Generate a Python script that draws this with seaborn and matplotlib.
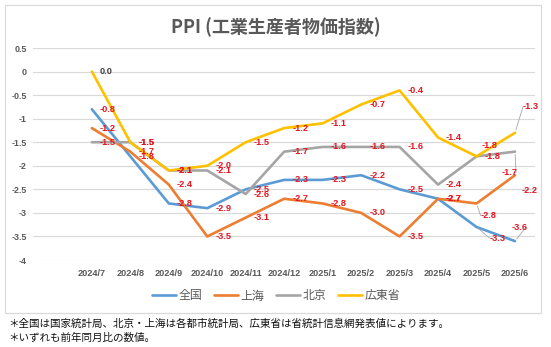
import numpy as np
import pandas as pd
import matplotlib
matplotlib.use("Agg")
import matplotlib.pyplot as plt
from matplotlib.patches import Rectangle
import seaborn as sns

# ---- data ----
months = ["2024/7", "2024/8", "2024/9", "2024/10", "2024/11", "2024/12",
          "2025/1", "2025/2", "2025/3", "2025/4", "2025/5", "2025/6"]
series_names = ["全国", "上海", "北京", "広東省"]
zenkoku = [-0.8, -1.8, -2.8, -2.9, -2.5, -2.3, -2.3, -2.2, -2.5, -2.7, -3.3, -3.6]
shanghai = [-1.2, -1.7, -2.4, -3.5, -3.1, -2.7, -2.8, -3.0, -3.5, -2.7, -2.8, -2.2]
beijing = [-1.5, -1.5, -2.1, -2.1, -2.6, -1.7, -1.6, -1.6, -1.6, -2.4, -1.8, -1.7]
guangdong = [0.0, -1.5, -2.1, -2.0, -1.5, -1.2, -1.1, -0.7, -0.4, -1.4, -1.8, -1.3]
yticks = [0.5, 0, -0.5, -1, -1.5, -2, -2.5, -3, -3.5, -4]
ytick_labels = ["0.5", "0", "-0.5", "-1", "-1.5", "-2", "-2.5", "-3", "-3.5", "-4"]
title = "PPI (工業生産者物価指数)"
notes = ["＊全国は国家統計局、北京・上海は各都市統計局、広東省は省統計信息網発表値によります。",
         "＊いずれも前年同月比の数値。"]

# ---- styles ----
colors = {"全国": "#5B9BD5", "上海": "#ED7D31", "北京": "#A5A5A5", "広東省": "#FFC000"}
# label offsets in pixels (dx right, dy up) for special cases
default_off = (8, 0)
label_offsets = {
    ("広東省", 10): (5, 10.5), ("広東省", 11): (8, 26),
    ("北京", 11): (-13, -21),
    ("上海", 10): (4, -12), ("上海", 11): (7, -15),
    ("全国", 10): (13, -11), ("全国", 11): (-3, 14),
}
leaders = {("広東省", 11), ("北京", 11), ("上海", 10), ("全国", 10), ("全国", 11)}

values = {"全国": zenkoku, "上海": shanghai, "北京": beijing, "広東省": guangdong}
df = pd.DataFrame([
    {"x": i, "month": m, "series": s, "value": values[s][i]}
    for s in series_names for i, m in enumerate(months)
])

sns.set_theme(style="white")
plt.rcParams["font.family"] = ["Liberation Sans", "Noto Sans CJK JP", "DejaVu Sans"]

W, H, DPI = 551, 347, 100
fig = plt.figure(figsize=(W / DPI, H / DPI), dpi=DPI)
fig.patch.set_facecolor("white")

# chart border
fig.patches.append(Rectangle((5 / W, 1 - 313 / H), (541 - 5) / W, (313 - 5) / H,
                             transform=fig.transFigure, fill=False,
                             edgecolor="#D9D9D9", linewidth=0.9, zorder=0))

ax_left, ax_right = 33 / W, 535 / W
ax_bottom, ax_top = 1 - 260 / H, 1 - 48 / H
ax = fig.add_axes([ax_left, ax_bottom, ax_right - ax_left, ax_top - ax_bottom])
ax.set_facecolor("none")

sns.lineplot(data=df, x="x", y="value", hue="series", hue_order=series_names,
             palette=colors, linewidth=1.9, sort=False, ax=ax, legend=True)

ax.set_xlim(-1.53, 11.52)
ax.set_ylim(-4, 0.5)
ax.set_yticks(yticks)
ax.set_yticklabels(ytick_labels)
ax.set_xticks(range(len(months)))
ax.set_xticklabels(months)
ax.grid(axis="y", color="#D9D9D9", linewidth=0.8)
ax.grid(axis="x", visible=False)
for sp in ax.spines.values():
    sp.set_visible(False)
ax.tick_params(axis="both", length=0)
ax.tick_params(axis="y", pad=4.5, labelsize=6.4, labelcolor="#595959")
ax.tick_params(axis="x", pad=6.5, labelsize=6.6, labelcolor="#595959")
for t in ax.get_xticklabels() + ax.get_yticklabels():
    t.set_fontweight("bold")
ax.set_xlabel("")
ax.set_ylabel("")

px = 72 / DPI
for s in series_names:
    for i, v in enumerate(values[s]):
        dx, dy = label_offsets.get((s, i), default_off)
        col = "#404040" if v == 0 else "#E8141E"
        ax.annotate(f"{v:.1f}", xy=(i, v), xytext=(dx * px, dy * px),
                    textcoords="offset points", ha="left", va="center",
                    fontsize=6.6, fontweight="bold", color=col, zorder=10)
        if (s, i) in leaders:
            ax.annotate("", xy=(i, v), xytext=((dx + (0 if dx > 0 else 14)) * px, dy * px),
                        textcoords="offset points",
                        arrowprops=dict(arrowstyle="-", color="#A6A6A6", lw=0.6,
                                        shrinkA=0, shrinkB=2), zorder=9)

# legend
handles, labels = ax.get_legend_handles_labels()
ax.legend(handles, labels, loc="center", bbox_to_anchor=(276 / W, 1 - 296 / H),
          bbox_transform=fig.transFigure, ncol=4, frameon=False,
          prop={"family": ["Noto Sans CJK JP"], "size": 8.6},
          labelcolor="#595959", handlelength=2.0, handletextpad=0.2,
          columnspacing=1.0)

fig.text(276 / W, 1 - 27 / H, title, ha="center", va="center",
         fontsize=13, fontweight="bold", color="#595959",
         family=["Noto Sans CJK JP", "DejaVu Sans"])
fig.text(8 / W, 1 - 324 / H, notes[0], ha="left", va="center",
         fontsize=7.6, color="#111111", family=["Noto Sans CJK JP", "DejaVu Sans"])
fig.text(8 / W, 1 - 338 / H, notes[1], ha="left", va="center",
         fontsize=7.6, color="#111111", family=["Noto Sans CJK JP", "DejaVu Sans"])

fig.savefig("out.png", dpi=DPI, facecolor="white")
